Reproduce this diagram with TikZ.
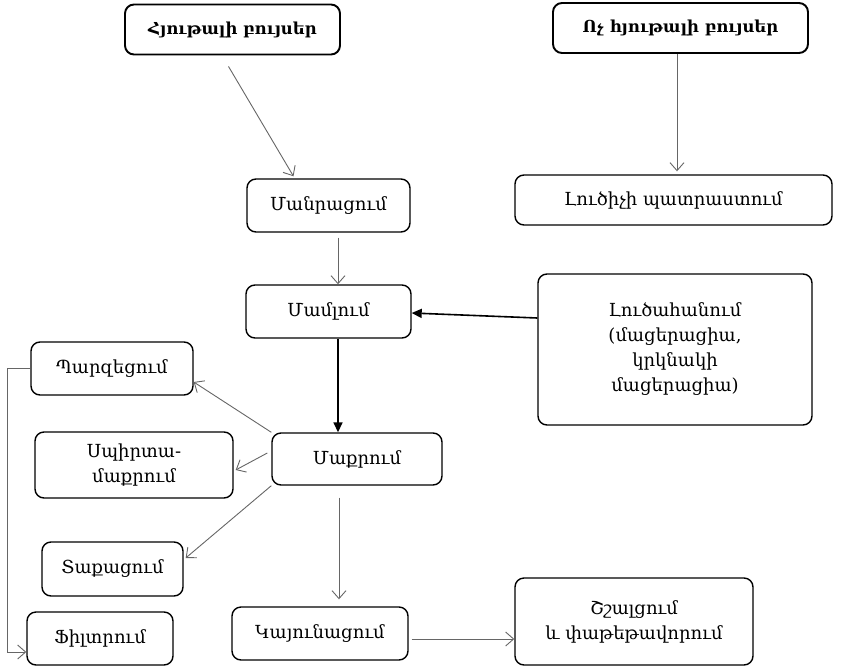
\documentclass[tikz,border=0pt]{standalone}
\usepackage{fontspec}
\setmainfont{DejaVu Serif}
\usetikzlibrary{arrows.meta}
\begin{document}
\begin{tikzpicture}[x=1pt,y=-1pt,
  box/.style={draw, rounded corners=9pt, line width=1.4pt, align=center,
    inner sep=0pt, font=\fontsize{18}{25}\selectfont},
  topbox/.style={box, line width=1.9pt, font=\fontsize{16.5}{25}\selectfont\bfseries},
  thin/.style={draw=black!60, line width=0.9pt, -{Straight Barb[length=8pt,width=14pt]}},
  thick/.style={draw=black, line width=1.6pt, -{Triangle[length=10pt,width=9pt]}}]
\useasboundingbox (0,0) rectangle (843,667);

% raw materials
\node[topbox, minimum width=215pt, minimum height=50pt] (hyut) at (232.5,29.5) {Հյութալի բույսեր};
\node[topbox, minimum width=255pt, minimum height=50pt] (voch) at (680.5,28) {Ոչ հյութալի բույսեր};

% main line
\node[box, minimum width=163pt, minimum height=53pt] (manr) at (328.5,205.5) {Մանրացում};
\node[box, minimum width=317pt, minimum height=50pt] (luts) at (673.5,200) {Լուծիչի պատրաստում};
\node[box, minimum width=165pt, minimum height=53pt] (maml) at (328.5,311.5) {Մամլում};
\node[box, minimum width=274pt, minimum height=151pt] (lutsah) at (675,349.5)
  {Լուծահանում\\(մացերացիա,\\կրկնակի\\մացերացիա)};
\node[box, minimum width=170pt, minimum height=52pt] (maqr) at (357,459) {Մաքրում};

% purification branches
\node[box, minimum width=162pt, minimum height=53pt] (parz) at (112,368.5) {Պարզեցում};
\node[box, minimum width=198pt, minimum height=66pt] (spirt) at (134,465) {Սպիրտա-\\մաքրում};
\node[box, minimum width=141pt, minimum height=54pt] (taq) at (112.5,569) {Տաքացում};
\node[box, minimum width=146pt, minimum height=53pt] (filt) at (100,638.5) {Ֆիլտրում};

% final steps
\node[box, minimum width=176pt, minimum height=53pt] (kayun) at (320,633.5) {Կայունացում};
\node[box, minimum width=238pt, minimum height=87pt] (shal) at (634,621.5) {Շշալցում\\և փաթեթավորում};

% connectors
\draw[thin] ([xshift=-4pt,yshift=-11pt]hyut.south) -- ([xshift=-35pt,yshift=2pt]manr.north);
\draw[thin] ([xshift=-3.5pt]voch.south) -- ([xshift=3.5pt,yshift=3pt]luts.north);
\draw[thin] ([xshift=9.5pt,yshift=-5pt]manr.south) -- ([xshift=9.5pt]maml.north);
\draw[thick] ([yshift=31.5pt]lutsah.west) -- ([yshift=-1.5pt]maml.east);
\draw[thick] ([xshift=9.5pt]maml.south) -- ([xshift=-19pt]maqr.north);
\draw[thin] (maqr.north west) -- ([yshift=-13.5pt]parz.east);
\draw[thin] ([xshift=-4pt,yshift=6pt]maqr.west) -- ([xshift=2pt,yshift=-5pt]spirt.east);
\draw[thin] (maqr.south west) -- ([xshift=2pt,yshift=11pt]taq.east);
\draw[thin] ([xshift=-18pt,yshift=-12pt]maqr.south) -- ([xshift=19pt,yshift=7pt]kayun.north);
\draw[thin] ([xshift=3pt,yshift=-5.5pt]kayun.east) -- ([yshift=-17.5pt]shal.west);
\draw[thin] (parz.west) -- ++(-23,0) |- ([yshift=-13.5pt]filt.west);
\end{tikzpicture}
\end{document}
